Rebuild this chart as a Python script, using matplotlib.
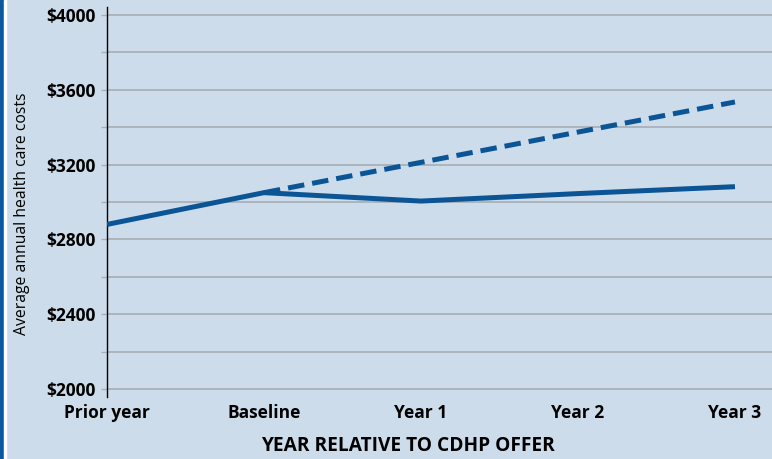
import matplotlib.pyplot as plt
from matplotlib.patches import Rectangle
from matplotlib.ticker import MultipleLocator, FuncFormatter

years = ["Prior year", "Baseline", "Year 1", "Year 2", "Year 3"]
actual = [2880, 3050, 3005, 3045, 3082]
projected_years = ["Baseline", "Year 1", "Year 2", "Year 3"]
projected = [3050, 3212, 3374, 3535]

bg = "#cddcea"
blue = "#0b5596"

plt.rcParams["font.family"] = ["Open Sans", "DejaVu Sans"]

fig = plt.figure(figsize=(7.72, 4.59), dpi=100, facecolor=bg)
ax = fig.add_axes([107 / 772, 62 / 459, 1 - 107 / 772, 390 / 459])
ax.set_facecolor(bg)

# left border strip
fig.patches.append(Rectangle((0, 0), 4 / 772, 1, transform=fig.transFigure,
                             color="#0b5aa0", zorder=5))
fig.patches.append(Rectangle((4 / 772, 0), 2 / 772, 1, transform=fig.transFigure,
                             color="white", zorder=5))

x = list(range(len(years)))
xp = [years.index(y) for y in projected_years]

ax.plot(xp, projected, color=blue, lw=3.6, dashes=(3.3, 1.6), zorder=3)
ax.plot(x, actual, color=blue, lw=3.6, solid_capstyle="butt", zorder=4)

ax.set_xlim(0, 4.236)
ax.set_ylim(1957, 4043)
ax.yaxis.set_major_locator(MultipleLocator(400))
ax.yaxis.set_minor_locator(MultipleLocator(200))
ax.yaxis.set_major_formatter(FuncFormatter(lambda v, p: f"${v:.0f}"))
ax.grid(True, which="both", axis="y", color="#a9b0b8", lw=1.3)
ax.set_axisbelow(True)

ax.set_xticks(x)
ax.set_xticklabels(years, fontsize=12.5, fontweight="bold")
for lbl in ax.get_yticklabels():
    lbl.set_fontweight("bold")
ax.tick_params(axis="y", which="both", length=4, width=1, color="#a9b0b8",
               labelsize=12.5, pad=4)
ax.tick_params(axis="x", length=0, pad=5)

for s in ["top", "right", "bottom"]:
    ax.spines[s].set_visible(False)
ax.spines["left"].set_color("black")
ax.spines["left"].set_linewidth(1)

ax.set_ylabel("Average annual health care costs", fontsize=11.3, va="center")
ax.yaxis.set_label_coords(22 / 772, 1 - 214 / 459, transform=fig.transFigure)
fig.text(408 / 772, 1 - 446 / 459, "YEAR RELATIVE TO CDHP OFFER",
         fontsize=13.8, fontweight="bold", ha="center", va="center")

fig.savefig("out.png", dpi=100, facecolor=bg)
